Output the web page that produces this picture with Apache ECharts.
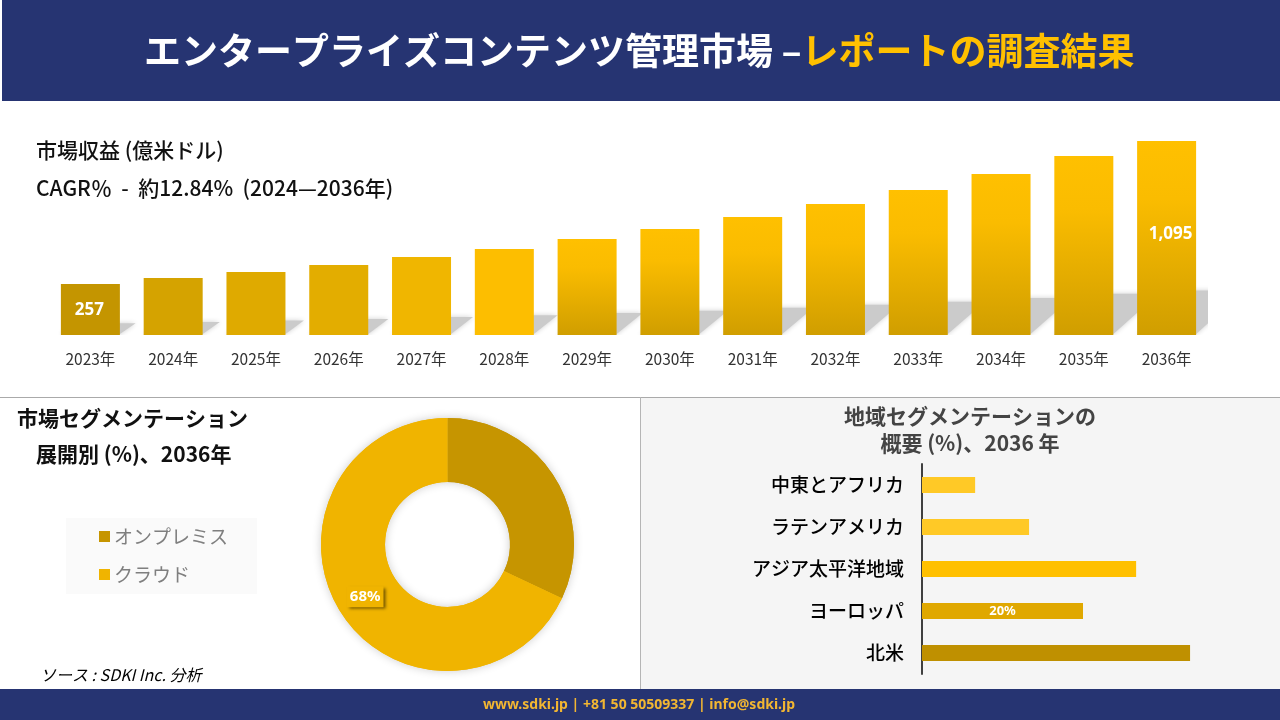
<!DOCTYPE html>
<html>
<head>
<meta charset="utf-8">
<title>エンタープライズコンテンツ管理市場</title>
<script src="https://cdn.jsdelivr.net/npm/echarts@6/dist/echarts.min.js"></script>
<style>
    html, body { margin: 0; padding: 0; background: #fff; }
    #chart { width: 1280px; height: 720px; }
</style>
</head>
<body>
<div id="chart"></div>
<script>
var years = ['2023年', '2024年', '2025年', '2026年', '2027年', '2028年', '2029年', '2030年', '2031年', '2032年', '2033年', '2034年', '2035年', '2036年'];
var revenue = [257, 292, 327, 368, 415, 462, 521, 579, 650, 726, 808, 902, 1007, 1095];

var deployNames = ['オンプレミス', 'クラウド'];
var deployShare = [32, 68];

var regions = ['中東とアフリカ', 'ラテンアメリカ', 'アジア太平洋地域', 'ヨーロッパ', '北米'];
var regionShare = [6.6, 13.3, 26.6, 20, 33.3];

var JP = '"Noto Sans CJK JP"';
var NAVY = '#263472';
var GOLD = '#ffc000';

// 2023-2028 are flat, the later bars fade to dark at the bottom
var flatColors = ['#c49500', '#d5a300', '#dfaa00', '#e3ad00', '#f0b600', '#fdbe00'];
var regionColors = ['#ffc926', '#ffc926', '#ffc000', '#e0a800', '#bf9000'];
var pieColors = ['#c69500', '#f0b400'];

function barColor(i) {
    if (i < flatColors.length) {
        return flatColors[i];
    }
    return new echarts.graphic.LinearGradient(0, 0, 0, 1, [
        { offset: 0, color: '#ffc000' },
        { offset: 0.3, color: '#fabc00' },
        { offset: 1, color: '#d09e00' }
    ]);
}

function barLabel(i) {
    if (i !== 0 && i !== years.length - 1) {
        return { show: false };
    }
    return {
        show: true,
        position: 'inside',
        offset: i === 0 ? [-1, 1] : [4, -4],
        color: '#fff',
        fontFamily: '"Noto Sans"',
        fontWeight: 'bold',
        fontSize: 17,
        formatter: function (p) { return echarts.format.addCommas(p.value); }
    };
}

// slanted shadow behind each bar
function renderShadow(params, api) {
    var top = api.coord([api.value(0), api.value(1)]);
    var bottom = api.coord([api.value(0), -42]);
    var h = bottom[1] - top[1];
    var d = h * 0.23;
    var half = 29.5;
    return {
        type: 'polygon',
        shape: {
            points: [
                [top[0] - half, bottom[1]],
                [top[0] + half, bottom[1] - 1],
                [top[0] + half + d + 4, bottom[1] - d],
                [top[0] - half + d, bottom[1] - d]
            ]
        },
        style: { fill: '#cbcbcb', shadowBlur: 5, shadowColor: '#cfcfcf' }
    };
}

function text(x, y, str, size, opt) {
    opt = opt || {};
    return {
        type: 'text',
        x: x,
        y: y,
        z: 5,
        style: {
            text: str,
            fill: opt.color || '#111',
            font: (opt.style || 'normal') + ' ' + (opt.weight || 'normal') + ' ' + size + 'px ' + (opt.family || JP),
            align: opt.align || 'left',
            verticalAlign: 'middle'
        }
    };
}

function rect(x, y, w, h, color) {
    return { type: 'rect', z: -1, shape: { x: x, y: y, width: w, height: h }, style: { fill: color } };
}

var option = {
    animation: false,
    backgroundColor: '#fff',
    title: [{
        left: 139,
        top: 46,
        textVerticalAlign: 'middle',
        text: '{a|エンタープライズコンテンツ管理市場 –}{b|レポートの調査結果}',
        textStyle: {
            rich: {
                a: { color: '#fff', fontFamily: JP, fontWeight: 'bold', fontSize: 37 },
                b: { color: GOLD, fontFamily: JP, fontWeight: 'bold', fontSize: 37 }
            }
        }
    }],
    legend: {
        orient: 'vertical',
        left: 94,
        top: 522,
        itemWidth: 11,
        itemHeight: 11,
        itemGap: 19,
        icon: 'rect',
        data: deployNames,
        textStyle: { color: '#7f7f7f', fontFamily: JP, fontSize: 19, padding: [0, 0, 3, -1] }
    },
    grid: [
        { left: 49, top: 141, width: 1159, height: 194 },
        { left: 922, top: 464, width: 322, height: 210 }
    ],
    xAxis: [{
        gridIndex: 0,
        type: 'category',
        data: years,
        axisLine: { show: false },
        axisTick: { show: false },
        axisLabel: { color: '#333', fontFamily: JP, fontSize: 15.5, margin: 16 }
    }, {
        gridIndex: 1,
        type: 'value',
        min: 0,
        max: 40,
        show: false
    }],
    yAxis: [{
        gridIndex: 0,
        type: 'value',
        min: -42,
        max: 1095,
        startValue: -42,
        show: false
    }, {
        gridIndex: 1,
        type: 'category',
        inverse: true,
        data: regions,
        axisLine: { show: true, lineStyle: { color: '#404040', width: 2 } },
        axisTick: { show: false },
        axisLabel: { color: '#000', fontFamily: JP, fontWeight: 500, fontSize: 19, margin: 18, padding: [0, 0, 6, 0] }
    }],
    series: [{
        type: 'custom',
        xAxisIndex: 0,
        yAxisIndex: 0,
        clip: true,
        z: 1,
        silent: true,
        renderItem: renderShadow,
        encode: { x: 0, y: 1 },
        data: revenue.map(function (v, i) { return [i, v]; })
    }, {
        type: 'bar',
        xAxisIndex: 0,
        yAxisIndex: 0,
        z: 2,
        barWidth: 59,
        data: revenue.map(function (v, i) {
            return { value: v, itemStyle: { color: barColor(i) }, label: barLabel(i) };
        })
    }, {
        // under-layer so the soft shadow stays outside the ring only
        type: 'pie',
        z: 1,
        silent: true,
        center: [447.5, 544.5],
        radius: [62.5, 126.5],
        label: { show: false },
        labelLine: { show: false },
        itemStyle: { shadowBlur: 10, shadowColor: 'rgba(0,0,0,0.2)' },
        data: deployShare.map(function (v, i) {
            return { value: v, itemStyle: { color: pieColors[i] } };
        })
    }, {
        type: 'pie',
        z: 2,
        center: [447.5, 544.5],
        radius: [62.5, 126.5],
        startAngle: 90,
        clockwise: true,
        emphasis: { disabled: true },
        labelLine: { show: false },
        data: deployNames.map(function (name, i) {
            return {
                name: name,
                value: deployShare[i],
                itemStyle: { color: pieColors[i] },
                label: i === 0 ? { show: false } : {
                    show: true,
                    position: 'inside',
                    formatter: '{c}%',
                    color: '#fff',
                    fontFamily: '"Noto Sans"',
                    fontWeight: 'bold',
                    fontSize: 15,
                    padding: [3, 3],
                    backgroundColor: '#f0b400',
                    shadowBlur: 3,
                    shadowColor: 'rgba(0,0,0,0.55)',
                    shadowOffsetX: 2,
                    shadowOffsetY: 2
                }
            };
        })
    }, {
        type: 'bar',
        xAxisIndex: 1,
        yAxisIndex: 1,
        barWidth: 16,
        data: regionShare.map(function (v, i) {
            return {
                value: v,
                itemStyle: { color: regionColors[i] },
                label: regions[i] !== 'ヨーロッパ' ? { show: false } : {
                    show: true,
                    position: 'inside',
                    formatter: '{c}%',
                    color: '#fff',
                    fontFamily: '"Noto Sans"',
                    fontWeight: 'bold',
                    fontSize: 13
                }
            };
        })
    }],
    graphic: [
        rect(2, 0, 1278, 101, NAVY),
        rect(640, 398, 640, 291, '#f5f5f5'),
        rect(0, 397, 1280, 1, '#aaaaaa'),
        rect(640, 397, 1, 292, '#b5b5b5'),
        rect(0, 689, 1280, 31, NAVY),
        rect(66, 518, 191, 76, '#fafafa'),
        text(36, 150, '市場収益 (億米ドル)', 21, { weight: 500 }),
        text(36, 188, 'CAGR％  -  約12.84%  (2024—2036年)', 21, { weight: 500 }),
        text(17, 418, '市場セグメンテーション', 21, { weight: 'bold' }),
        text(36, 454, '展開別 (%)、2036年', 21, { weight: 'bold' }),
        text(970, 416, '地域セグメンテーションの', 21, { weight: 'bold', color: '#444', align: 'center' }),
        text(970, 443, '概要 (%)、2036 年', 21, { weight: 'bold', color: '#444', align: 'center' }),
        text(40, 675, 'ソース : SDKI Inc. 分析', 16, { style: 'italic', color: '#000' }),
        text(639, 705, 'www.sdki.jp | +81 50 50509337 | info@sdki.jp', 14, { weight: 'bold', color: '#f2b632', align: 'center', family: '"Noto Sans"' })
    ]
};

var chart = echarts.init(document.getElementById('chart'));
chart.setOption(option);
</script>
</body>
</html>
